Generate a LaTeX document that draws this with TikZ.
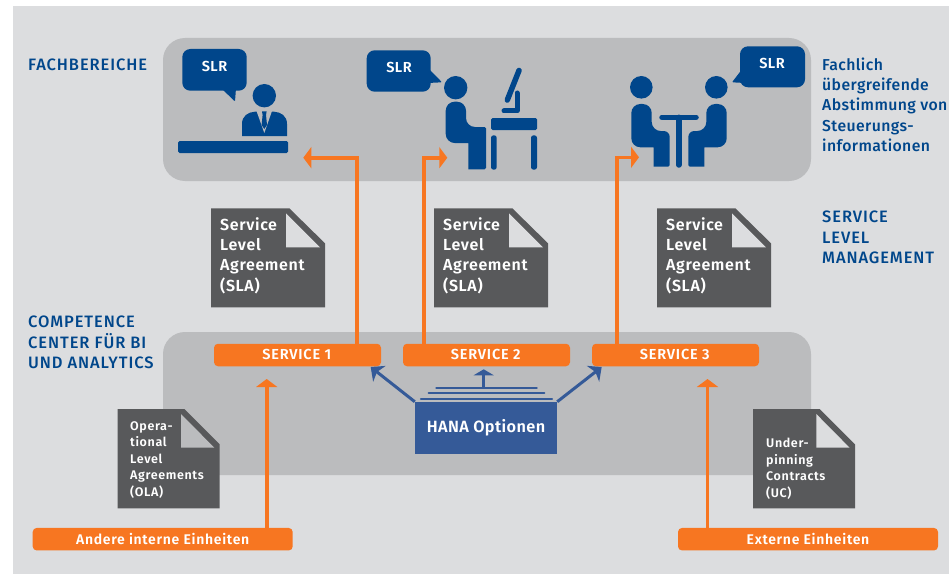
\documentclass[tikz,border=0pt]{standalone}
\usepackage{fontspec}
\setmainfont{Fira Sans}
\newfontfamily\medf{Fira Sans Medium}
\newfontfamily\semi{Fira Sans SemiBold}
\usetikzlibrary{arrows.meta}
\definecolor{bgc}{HTML}{DCDDDF}
\definecolor{panel}{HTML}{BBBCBE}
\definecolor{navy}{HTML}{00468B}
\definecolor{orangec}{HTML}{F77621}
\definecolor{docc}{HTML}{58595B}
\definecolor{hanac}{HTML}{355A98}
\newcommand{\ls}[1]{\addfontfeatures{LetterSpace=#1}}
\tikzset{
  icon/.style={fill=navy,draw=none},
  lbl/.style={text=navy,font=\medf\fontsize{16.5}{20.3}\selectfont\ls{5.5},anchor=north west,align=left,inner sep=0pt},
  lbllow/.style={text=navy,font=\medf\fontsize{15.8}{20.3}\selectfont\ls{2.5},anchor=north west,align=left,inner sep=0pt},
  svcbase/.style={fill=orangec,draw=none,rounded corners=4,text=white,minimum height=22.5,inner sep=0pt,anchor=center},
  svc/.style={svcbase,font=\semi\fontsize{14.5}{15}\selectfont\ls{5.5}},
  ext/.style={svcbase,font=\semi\fontsize{14}{15}\selectfont\ls{5}},
  slr/.style={text=white,font=\semi\fontsize{14.5}{15}\selectfont\ls{3},inner sep=0pt},
  orarrow/.style={draw=orangec,line width=3.6,-{Triangle[length=8,width=21]}},
  bluearrow/.style={draw=hanac,line width=3,-{Stealth[length=11,width=20,inset=3]}},
  stack/.style={draw=hanac,line width=2.2,line cap=round},
  doctext/.style={text=white,font=\semi\fontsize{16}{20.4}\selectfont\ls{4},anchor=north west,align=left,inner sep=0pt},
  doctextsm/.style={text=white,font=\semi\fontsize{12.5}{16.5}\selectfont\ls{5},anchor=north west,align=left,inner sep=0pt},
}
\newcommand{\sladoc}[2]{%
  \fill[docc] (#1,208.3) -- (#1+78.3,208.3) -- (#1+114,243.3) -- (#1+114,307.3) -- (#1,307.3) -- cycle;
  \fill[#2] (#1+75,213.3) -- (#1+75,247.3) -- (#1+109,247.3) -- cycle;
}
\newcommand{\smdoc}[2]{%
  \fill[docc] (#1,409) -- (#1+66.6,409) -- (#1+102,444.3) -- (#1+102,508.3) -- (#1,508.3) -- cycle;
  \fill[#2] (#1+63.3,414) -- (#1+63.3,447.7) -- (#1+96.6,447.7) -- cycle;
}
\begin{document}
\begin{tikzpicture}[x=1pt,y=-1pt]
\useasboundingbox (0,0) rectangle (949,575);
\fill[white] (0,0) rectangle (949,575);
\fill[bgc] (13,6) rectangle (949,574);
% panels
\fill[panel,rounded corners=22] (163,38) rectangle (811,181);
\fill[panel] (163,475) [rounded corners=22] -- (163,332) -- (811,332) [rounded corners=0] -- (811,475) -- cycle;
% bubbles
\fill[icon,rounded corners=8] (182.3,49) -- (246.7,49) -- (246.7,90.7) -- (182.3,90.7) -- cycle;
\fill[icon,rounded corners=1] (221,88) -- (235,101.5) -- (236,88) -- cycle;
\fill[icon,rounded corners=8] (366.7,50.3) -- (430.7,50.3) -- (430.7,91.7) -- (366.7,91.7) -- cycle;
\fill[icon,rounded corners=1] (428,68) -- (442,82.3) -- (428,83) -- cycle;
\fill[icon,rounded corners=8] (740,46.3) -- (805,46.3) -- (805,87.3) -- (740,87.3) -- cycle;
\fill[icon,rounded corners=1] (743,68) -- (732,82.3) -- (745,83) -- cycle;
\node[slr] (slra) at (214.5,66) {SLR};
\node[slr] (slrb) at (399,67.5) {SLR};
\node[slr] (slrc) at (772,63) {SLR};
% person 1
\fill[icon] (264.3,95.7) circle[radius=11.7];
\fill[icon] (242,136) -- (242,124) .. controls (242,116) and (248,112) .. (255,111.7) -- (274,111.7) .. controls (281,112) and (287,116) .. (287,124) -- (287,136) -- cycle;
\fill[panel] (256.5,111) -- (264.3,133) -- (272,111) -- cycle;
\fill[icon] (262,111.5) -- (266.6,111.5) -- (266,115) -- (267,125) -- (264.3,129) -- (261.6,125) -- (262.6,115) -- cycle;
\fill[icon,rounded corners=1.5] (178,141) rectangle (288,153);
% person 2
\fill[icon] (455.7,87.7) circle[radius=11.7];
\fill[icon] (468.3,169.3) [rounded corners=1.5] -- (486,169.3) -- (486,127) [rounded corners=9] -- (466,127) -- (466,101.7) -- (445.7,101.7) -- (445.7,143) [rounded corners=0] -- (468.3,143) -- cycle;
\fill[icon,rounded corners=1.5] (491,118) rectangle (537,130);
\fill[icon,rounded corners=2.5] (491,135.3) rectangle (496.7,169.7);
\fill[icon,rounded corners=2.5] (531,135.3) rectangle (537,169.7);
\draw[navy,line width=5.5,line cap=round] (519,70.5) -- (507.3,100);
\draw[navy,line width=5,line cap=round,line join=round] (517,93) -- (517,111) -- (504,111);
% persons 3
\fill[icon] (641.3,87.3) circle[radius=11.3];
\fill[icon] (653.7,166.7) [rounded corners=1.5] -- (669.7,166.7) [rounded corners=6] -- (669.7,131) [rounded corners=9] -- (651.7,131) -- (651.7,104) -- (631.3,104) -- (631.3,147.3) [rounded corners=0] -- (653.7,147.3) -- cycle;
\fill[icon] (716.3,87.3) circle[radius=11.3];
\fill[icon] (704.3,166.7) [rounded corners=1.5] -- (688.3,166.7) [rounded corners=6] -- (688.3,131) [rounded corners=9] -- (706.3,131) -- (706.3,104) -- (726.7,104) -- (726.7,147.3) [rounded corners=0] -- (704.3,147.3) -- cycle;
\draw[navy,line width=5.5,line cap=round] (662,117.3) -- (696,117.3);
\draw[navy,line width=5.5,line cap=round] (678.8,117.3) -- (678.8,165);
% documents
\sladoc{211}{bgc}
\sladoc{434}{bgc}
\sladoc{657}{bgc}
\smdoc{117.7}{panel}
\smdoc{753}{bgc}
\node[doctext] (da) at (220,217) {Service\\Level\\Agreement\\(SLA)};
\node[doctext] (db) at (443,217) {Service\\Level\\Agreement\\(SLA)};
\node[doctext] (dc) at (666,217) {Service\\Level\\Agreement\\(SLA)};
\node[doctextsm] (dd) at (130,421.2) {Opera-\\tional\\Level\\Agreements\\(OLA)};
\node[doctextsm] (de) at (766,438.2) {Under-\\pinning\\Contracts\\(UC)};
% services
\node[svc,minimum width=167] (s1) at (297.5,355) {\hspace*{-1.5pt}\raisebox{.7pt}{SERVICE 1}};
\node[svc,minimum width=167] (s2) at (486.5,355) {\hspace*{-1.5pt}\raisebox{.7pt}{SERVICE 2}};
\node[svc,minimum width=167] (s3) at (675.5,355) {\hspace*{-1.5pt}\raisebox{.7pt}{SERVICE 3}};
\node[ext,minimum width=260] (andere) at (162.7,539.2) {Andere interne Einheiten};
\node[ext,minimum width=260] (externe) at (808,539.2) {Externe Einheiten};
\node[fill=hanac,text=white,font=\semi\fontsize{16.3}{17}\selectfont\ls{2.5},minimum width=142,minimum height=51.7,inner sep=0pt] (hana) at (486,427.8) {\raisebox{-1.5pt}{HANA Optionen}};
% free ends
\coordinate (ta) at (303.3,157.7);
\coordinate (tb) at (447.3,157.7);
\coordinate (tc) at (639,157.3);
\coordinate (td) at (266.7,379);
\coordinate (te) at (707.5,379);
\coordinate (tf) at (370.7,367);
\coordinate (tg) at (601.7,367);
\coordinate (th) at (483.7,369.3);
\coordinate (ti) at (483.7,388);
\coordinate (ba) at (356.7,344);
\coordinate (bb) at (424,344);
\coordinate (bc) at (617,344);
% orange connectors
\draw[orarrow] (ba) |- (ta);
\draw[orarrow] (bb) |- (tb);
\draw[orarrow] (bc) |- (tc);
\draw[orarrow] (andere.north -| td) -- (td);
\draw[orarrow] (externe.north -| te) -- (te);
% blue
\draw[bluearrow] (hana.north west) -- (tf);
\draw[bluearrow] (hana.north east) -- (tg);
\draw[stack] (421,398.7) -- (552,398.7);
\draw[stack] (428.7,393.3) -- (544.3,393.3);
\draw[stack] (436.3,388) -- (536.7,388);
\draw[draw=hanac,line width=3,-{Triangle[length=6,width=20]}] (ti) -- (th);
% labels
\node[lbl] (l1) at (28,59) {FACHBEREICHE};
\node[lbl] (l2) at (28,316) {COMPETENCE\\CENTER FÜR BI\\UND ANALYTICS};
\node[lbl] (l3) at (822,211) {SERVICE\\LEVEL\\MANAGEMENT};
\node[lbllow] (l4) at (822,57.5) {Fachlich\\übergreifende\\Abstimmung von\\Steuerungs-\\informationen};
\end{tikzpicture}
\end{document}
